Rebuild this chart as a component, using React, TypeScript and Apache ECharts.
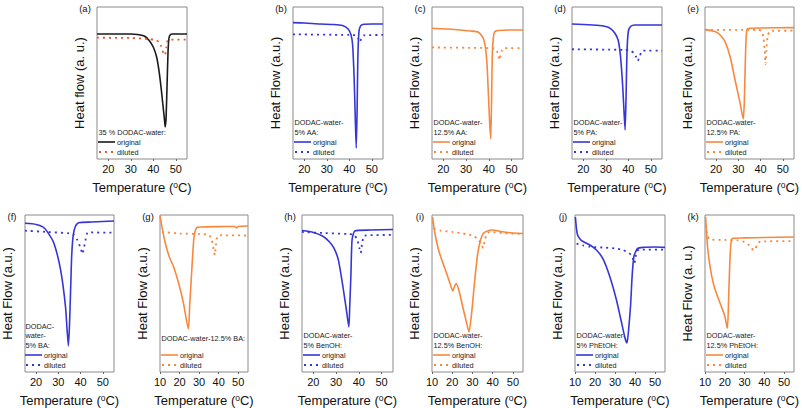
import React, { useEffect, useRef } from "react";
import * as echarts from "echarts";

const FONT = "'Liberation Sans', Arial, sans-serif";
const BLACK = "#1a1a1a";
const RED = "#e4572e";
const BLUE = "#3535d8";
const ORANGE = "#f7883e";

// x tick labels
const ticksFrom15 = [20, 30, 40, 50];
const ticksFrom10 = [10, 20, 30, 40, 50];

// [temperature (°C), heat flow (a.u.)]
const aOriginal = [[15,82.2],[30,82.2],[33,81.9],[36,80.9],[38,78.3],[40,73.7],[41.5,67.1],[42.5,58.6],[43.5,46.7],[44.3,35.5],[45,25.7],[45.3,21.1],[45.7,27],[46.2,52],[46.6,71.7],[47,79.6],[47.5,81.6],[48.5,82.2],[55,82.2]];
const aDiluted = [[15,79.8],[30,79.6],[38,78.9],[41,78.3],[42.5,77],[43.5,74.3],[44.5,69.7],[45.2,68.4],[45.8,73],[46.3,77.6],[47,78.6],[55,78.6]];

const bOriginal = [[15,89.7],[20,89.5],[27,88.8],[33,88.5],[37,87.8],[39.5,85.5],[40.8,81.6],[41.5,75],[42.2,52],[42.7,25.7],[43.1,7.2],[43.5,32.2],[43.8,65.1],[44.3,83.6],[45,87.5],[46,88.5],[50,88.8],[55,88.8]];
const bDiluted = [[15,82],[40,81.6],[43,81.3],[44,79.3],[44.7,77],[45.3,78.9],[46.3,81.3],[55,81.6]];

const cOriginal = [[15,86],[25,85.2],[32,84.2],[35.4,83.4],[37.5,79.6],[38.5,73],[39.2,61.8],[39.8,42.1],[40.4,22.4],[40.8,13.2],[41.2,38.8],[41.5,68.4],[42,80.3],[42.5,83.6],[44,84.5],[50,84.9],[55,84.9]];
const cDiluted = [[15,73.4],[40,73],[42.5,72.7],[43.5,71.1],[44.2,68.4],[44.7,65.1],[45.2,68.4],[45.8,71.7],[46.5,73],[55,73]];

const dOriginal = [[15,88.8],[20,88.5],[26,88],[30,87.2],[32,86],[34,82.9],[35.5,78.3],[36.5,68.4],[37.5,48.7],[38.2,28.9],[38.6,19.1],[39,38.8],[39.4,68.4],[40,83.6],[41,87.2],[43,88.2],[55,88.2]];
const dDiluted = [[15,72.2],[38,71.8],[41,71.4],[42.5,69.7],[43.5,67.1],[44.2,64.5],[45,67.1],[45.8,70.4],[46.5,71.3],[55,71.3]];

const eOriginal = [[15,85.3],[19.5,83.8],[21.8,81.6],[24,77.2],[26.3,67.3],[28.5,52],[30.8,36.6],[32.2,26.3],[32.7,38.8],[33.2,68.4],[33.8,84.9],[35.3,86],[40,86.2],[55,86.4]];
const eDiluted = [[15,84.9],[39,84.9],[40.5,84.2],[41.3,79.6],[41.8,71.7],[42.2,62.5],[42.6,71.7],[43.2,81],[44.3,84.2],[55,84.4]];

const fOriginal = [[15,94.7],[20,94],[23,92.4],[25,89.4],[28,82],[31,65],[33.2,41.6],[34.5,16.6],[35,29.9],[35.5,52.2],[36,74.5],[36.7,87.3],[37.7,93],[39.1,95.1],[45,95.5],[55,96.2]];
const fDiluted = [[15,90],[25,89.2],[35,88.3],[37,87.3],[38.5,84.1],[40,79],[40.8,75.2],[41.5,79],[42.2,84.1],[43.3,88.9],[55,88.7]];

const gOriginal = [[10,99.4],[11,92.4],[12,86],[13.5,78.3],[15,72.6],[17,66.9],[19.5,56.7],[22,43.9],[24.5,27.4],[25.2,42.7],[26.5,70.1],[27.4,86],[28.8,92],[31,92.4],[40,92.6],[48,92.7],[49.2,91.8],[50,92.7],[55,93]];
const gDiluted = [[11,89.2],[20,88.2],[30,87.9],[35,87.3],[36.5,84.1],[37.5,77.7],[38,74.5],[38.6,80.9],[39.3,86.3],[41,87.1],[55,86.9]];

const hOriginal = [[15,90.1],[20,88.9],[24,86.6],[27,83],[29,79],[31,71.3],[33,54.3],[34.5,39.5],[35.6,28.7],[36,42.7],[36.5,61.8],[37,84.1],[38.2,89.8],[45,90.4],[55,90.8]];
const hDiluted = [[15,89.2],[25,88.5],[35,87.9],[38,87.3],[39.3,84.1],[40.2,79],[40.8,75.8],[41.5,82.8],[42.5,86.9],[55,87.3]];

const iOriginal = [[10.3,98.7],[11,91.7],[11.8,86],[13,79],[14.5,72.6],[17,63.7],[19.5,54.1],[20.3,51.6],[21.2,54.8],[22,56.4],[23.5,51],[25,42.7],[27,31.8],[28.3,25.5],[29.5,36.3],[31,56.7],[32.5,74.5],[34,84.1],[35.5,88.5],[38,90.1],[40,90.4],[44,89.5],[50,88.5],[55,88.2]];
const iDiluted = [[10.5,95.5],[11.5,91.1],[14,90.1],[20,89.2],[27,87.9],[31,86.3],[33,84.1],[34.5,80.9],[35.3,79],[36,83.4],[37,87.6],[38.5,89.2],[45,88.5],[55,87.9]];

const jOriginal = [[10.2,98.7],[10.7,91.7],[11.3,87.3],[12.5,84.7],[14,83.1],[17,81.2],[20.5,78],[24,72],[27.3,61.1],[30.6,46.5],[33,33.1],[35,21.7],[36,18.5],[36.8,26.8],[37.8,42.7],[38.6,61.8],[39.5,73.9],[41.3,78.7],[44,79.4],[50,79.6],[55,79.4]];
const jDiluted = [[10.8,81.8],[14,80.6],[17.4,79.8],[25,79.2],[30,78.7],[34,77.7],[37,75.8],[38.5,73.9],[39.7,69.4],[40.3,73.2],[41,77.1],[43,78],[55,78]];

const kOriginal = [[10.3,98.7],[10.8,88.5],[11.3,79.6],[12,72],[13.4,61.1],[15,52.9],[17.6,43.9],[20,35.7],[21,29.3],[21.4,28],[22,49],[22.6,71.3],[23.2,82.8],[24,85.2],[30,85.4],[40,85.7],[55,86]];
const kDiluted = [[10.5,93.6],[11.2,86.6],[12.5,84.4],[20,84.1],[26.5,83.9],[30,82.8],[32.5,80.6],[34.5,77.7],[35.5,78.3],[36.5,81.8],[38,83.1],[55,83.4]];

const xTitle = "Temperature ({s|o}C)";
const yNameA = "Heat flow (a. u.)";
const yNameStd = "Heat Flow (a.u.)";
const yNameK = "Heat Flow (a. u.)";

type Panel = {
  id: string; left: number; top: number; width: number; height: number;
  xMin: number; ticks: number[]; yName: string; color: string; dilColor: string;
  orig: number[][]; dil: number[][]; legend: string[]; gap?: number;
};

const TOP = { top: 7, height: 152 };
const BOT = { top: 215, height: 157 };

const panels: Panel[] = [
  { id: "a", left: 97, width: 90, ...TOP, xMin: 15, ticks: ticksFrom15, yName: yNameA, color: BLACK, dilColor: RED, orig: aOriginal, dil: aDiluted, legend: ["35 % DODAC-water:"] },
  { id: "b", left: 293, width: 90, ...TOP, xMin: 15, ticks: ticksFrom15, yName: yNameStd, color: BLUE, dilColor: BLUE, orig: bOriginal, dil: bDiluted, legend: ["DODAC-water-", "5% AA:"] },
  { id: "c", left: 432, width: 91, ...TOP, xMin: 15, ticks: ticksFrom15, yName: yNameStd, color: ORANGE, dilColor: ORANGE, orig: cOriginal, dil: cDiluted, legend: ["DODAC-water-", "12.5% AA:"] },
  { id: "d", left: 572, width: 90, ...TOP, xMin: 15, ticks: ticksFrom15, yName: yNameStd, color: BLUE, dilColor: BLUE, orig: dOriginal, dil: dDiluted, legend: ["DODAC-water-", "5% PA:"] },
  { id: "e", left: 705, width: 89, ...TOP, xMin: 15, ticks: ticksFrom15, yName: yNameStd, color: ORANGE, dilColor: ORANGE, orig: eOriginal, dil: eDiluted, legend: ["DODAC-water-", "12.5% PA:"] },
  { id: "f", left: 24, width: 90, ...BOT, xMin: 15, ticks: ticksFrom15, yName: yNameStd, color: BLUE, dilColor: BLUE, orig: fOriginal, dil: fDiluted, legend: ["DODAC-", "water-", "5% BA:"] },
  { id: "g", left: 160, width: 88, ...BOT, xMin: 10, ticks: ticksFrom10, yName: yNameStd, color: ORANGE, dilColor: ORANGE, orig: gOriginal, dil: gDiluted, legend: ["DODAC-water-12.5% BA:"], gap: 17 },
  { id: "h", left: 302, width: 91, ...BOT, xMin: 15, ticks: ticksFrom15, yName: yNameStd, color: BLUE, dilColor: BLUE, orig: hOriginal, dil: hDiluted, legend: ["DODAC-water-", "5% BenOH:"] },
  { id: "i", left: 432, width: 91, ...BOT, xMin: 10, ticks: ticksFrom10, yName: yNameStd, color: ORANGE, dilColor: ORANGE, orig: iOriginal, dil: iDiluted, legend: ["DODAC-water-", "12.5% BenOH:"] },
  { id: "j", left: 575, width: 90, ...BOT, xMin: 10, ticks: ticksFrom10, yName: yNameStd, color: BLUE, dilColor: BLUE, orig: jOriginal, dil: jDiluted, legend: ["DODAC-water-", "5% PhEtOH:"] },
  { id: "k", left: 705, width: 89, ...BOT, xMin: 10, ticks: ticksFrom10, yName: yNameK, color: ORANGE, dilColor: ORANGE, orig: kOriginal, dil: kDiluted, legend: ["DODAC-water-", "12.5% PhEtOH:"] },
];

function buildOption() {
  const graphic: any[] = [];
  panels.forEach((p) => {
    graphic.push({
      type: "text", x: p.left - 12, y: p.top + 1,
      style: { text: `(${p.id})`, fill: "#111", font: `9.5px ${FONT}`, align: "center", verticalAlign: "middle" },
    });
    const origY = p.top + p.height - 17;
    const dilY = origY + 10;
    const gap = p.gap ?? 10;
    const n = p.legend.length;
    p.legend.forEach((t, j) => {
      graphic.push({
        type: "text", x: p.left + 1.5, y: origY - gap - (n - 1 - j) * 9.5,
        style: { text: t, fill: "#222", font: `7.3px ${FONT}`, align: "left", verticalAlign: "middle" },
      });
    });
    graphic.push({ type: "line", shape: { x1: p.left + 1, y1: origY, x2: p.left + 18, y2: origY }, style: { stroke: p.color, lineWidth: 1.6 } });
    graphic.push({ type: "line", shape: { x1: p.left + 2, y1: dilY, x2: p.left + 18, y2: dilY }, style: { stroke: p.dilColor, lineWidth: 1.8, lineDash: [2, 4] } });
    graphic.push({ type: "text", x: p.left + 20, y: origY, style: { text: "original", fill: "#222", font: `7.3px ${FONT}`, align: "left", verticalAlign: "middle" } });
    graphic.push({ type: "text", x: p.left + 20, y: dilY, style: { text: "diluted", fill: "#222", font: `7.3px ${FONT}`, align: "left", verticalAlign: "middle" } });
  });

  return {
    animation: false,
    backgroundColor: "#ffffff",
    textStyle: { fontFamily: FONT },
    grid: panels.map((p) => ({
      left: p.left, top: p.top, width: p.width, height: p.height,
      show: true, borderColor: "#8a8a8a", borderWidth: 1, backgroundColor: "transparent",
    })),
    xAxis: panels.map((p, i) => ({
      type: "value", gridIndex: i, min: p.xMin, max: 55,
      axisLine: { show: false },
      axisTick: { show: true, customValues: p.ticks, length: 2, lineStyle: { color: "#666" } },
      axisLabel: { customValues: p.ticks, fontSize: 11, color: "#111", margin: 4, fontFamily: FONT },
      splitLine: { show: false },
      name: xTitle, nameLocation: "middle", nameGap: 21,
      nameTextStyle: {
        fontSize: 13, color: "#111", fontFamily: FONT,
        rich: { s: { fontSize: 8.5, color: "#111", fontFamily: FONT, verticalAlign: "top", padding: [0, 0, 6, 0] } },
      },
    })),
    yAxis: panels.map((p, i) => ({
      type: "value", gridIndex: i, min: 0, max: 100,
      axisLine: { show: false }, axisTick: { show: false }, axisLabel: { show: false },
      splitLine: { show: false },
      name: p.yName, nameLocation: "middle", nameGap: 11,
      nameTextStyle: { fontSize: 13, color: "#111", fontFamily: FONT },
    })),
    series: panels.flatMap((p, i) => [
      {
        type: "line", name: `${p.id}-original`, xAxisIndex: i, yAxisIndex: i, data: p.orig,
        symbol: "none", showSymbol: false, smooth: 0.2, clip: true,
        lineStyle: { color: p.color, width: 1.6 }, emphasis: { disabled: true },
      },
      {
        type: "line", name: `${p.id}-diluted`, xAxisIndex: i, yAxisIndex: i, data: p.dil,
        symbol: "none", showSymbol: false, smooth: 0.2, clip: true,
        lineStyle: { color: p.dilColor, width: 1.8, type: [2, 4] }, emphasis: { disabled: true },
      },
    ]),
    graphic,
  };
}

export default function App() {
  const ref = useRef<HTMLDivElement>(null);
  useEffect(() => {
    if (!ref.current) return;
    const chart = echarts.init(ref.current, null, { renderer: "svg" });
    chart.setOption(buildOption() as any);
    return () => chart.dispose();
  }, []);
  return (
    <div
      ref={ref}
      style={{ position: "fixed", left: 0, top: 0, width: 802, height: 408, background: "#fff" }}
    />
  );
}
